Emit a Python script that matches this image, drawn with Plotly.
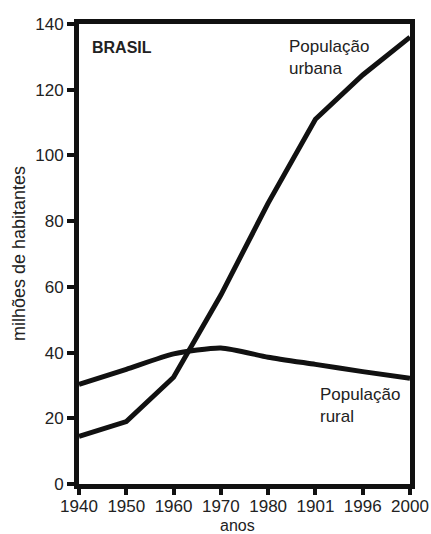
import plotly.graph_objects as go

anos = ["1940", "1950", "1960", "1970", "1980", "1901", "1996", "2000"]
urbana = [14.5, 19, 32.5, 57.5, 85.5, 111, 124.5, 136]
rural = [30.3, 34.9, 39.6, 41.4, 38.6, 36.4, 34.2, 32.2]
y_ticks = [0, 20, 40, 60, 80, 100, 120, 140]

FONT = "Liberation Sans, Arial, sans-serif"

fig = go.Figure()
fig.add_trace(go.Scatter(x=anos, y=urbana, mode="lines",
                         line=dict(color="#111", width=5), showlegend=False))
fig.add_trace(go.Scatter(x=anos, y=rural, mode="lines",
                         line=dict(color="#111", width=5, shape="spline", smoothing=0.6),
                         showlegend=False))

fig.update_layout(
    width=431, height=534,
    margin=dict(l=79, r=21, t=24, b=50),
    paper_bgcolor="white", plot_bgcolor="white",
    font=dict(family=FONT, color="#222", size=17),
    xaxis=dict(type="category", range=[0, 7], showgrid=False, zeroline=False,
               automargin=False,
               showline=True, linecolor="#111", linewidth=5, mirror=True,
               ticks="outside", ticklen=6, tickwidth=4, tickcolor="#111",
               ticklabelstandoff=-3,
               tickfont=dict(size=17)),
    yaxis=dict(range=[0, 140], tickvals=y_ticks, showgrid=False, zeroline=False,
               automargin=False,
               showline=True, linecolor="#111", linewidth=5, mirror=True,
               ticks="outside", ticklen=7, tickwidth=4, tickcolor="#111",
               tickfont=dict(size=17)),
    annotations=[
        dict(text="<b>BRASIL</b>", xref="paper", yref="paper", x=0.033, y=0.95,
             xanchor="left", yanchor="middle", showarrow=False, font=dict(size=16)),
        dict(text="População<br>urbana", xref="paper", yref="paper", x=0.628, y=0.927,
             xanchor="left", yanchor="middle", showarrow=False, align="left",
             font=dict(size=17)),
        dict(text="População<br>rural", xref="paper", yref="paper", x=0.722, y=0.170,
             xanchor="left", yanchor="middle", showarrow=False, align="left",
             font=dict(size=17)),
        dict(text="anos", xref="paper", yref="paper", x=0.48, y=0, yshift=-41,
             xanchor="center", yanchor="middle", showarrow=False, font=dict(size=16)),
        dict(text="milhões de habitantes", xref="paper", yref="paper", x=0, y=0.5,
             xshift=-60, textangle=-90, xanchor="center", yanchor="middle",
             showarrow=False, font=dict(size=18)),
    ],
)

fig.write_html("out.html", config={"displayModeBar": False},
               post_script="document.body.style.margin='0';")
